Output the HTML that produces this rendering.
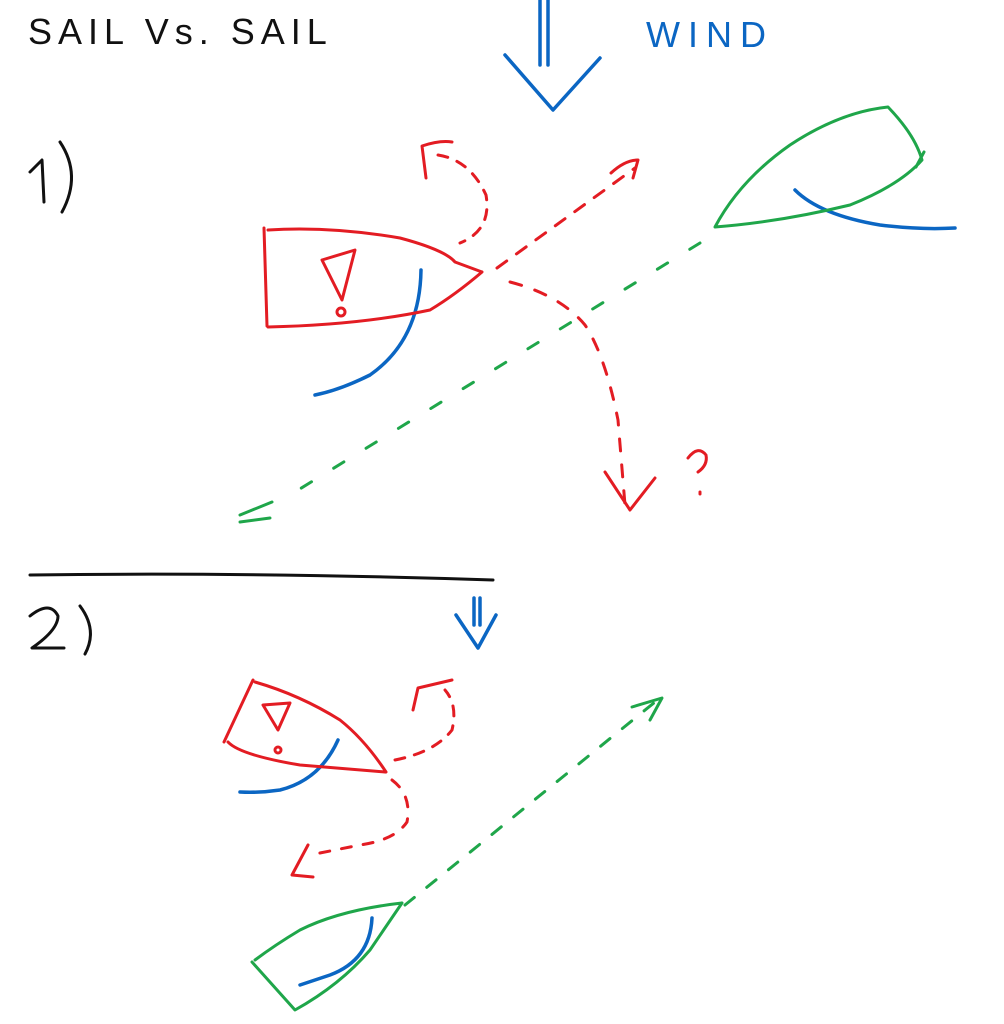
<!DOCTYPE html>
<html><head><meta charset="utf-8"><style>html,body{margin:0;padding:0;background:#fff}svg{display:block}</style></head>
<body>
<svg width="1004" height="1024" viewBox="0 0 1004 1024" xmlns="http://www.w3.org/2000/svg" fill="none" stroke-linecap="round" stroke-linejoin="round">
<text x="28" y="44" font-family="Liberation Sans, sans-serif" font-size="36" fill="#111" letter-spacing="6" stroke="none">SAIL  Vs. SAIL</text>
<text x="646" y="47" font-family="Liberation Sans, sans-serif" font-size="36" fill="#0b66c3" letter-spacing="8" stroke="none">WIND</text>
<g stroke="#111" stroke-width="3">
<path d="M30 172 L42 160 L44 202"/>
<path d="M60 142 Q82 175 62 212"/>
<path d="M30 616 Q50 600 58 616 Q58 630 32 648 L64 648"/>
<path d="M80 606 Q98 630 85 654"/>
<path d="M30 575 Q250 572 493 580"/>
</g>
<g stroke="#0b66c3" stroke-width="3.5">
<path d="M540 0 V65 M548 0 V65 M505 55 L553 110 L600 58"/>
<path d="M474 598 V625 M480 598 V625 M456 615 L478 648 L496 615"/>
<path d="M421 270 Q420 340 370 375 Q340 390 315 395"/>
<path d="M795 190 Q820 215 880 225 Q920 230 955 228"/>
<path d="M338 740 Q320 780 280 790 Q260 793 240 792"/>
<path d="M372 918 Q370 960 330 975 L300 985"/>
</g>
<g stroke="#e31c23" stroke-width="3">
<path d="M264 228 L267 326 M268 230 Q330 226 400 238 Q445 250 455 262 L482 272 M268 327 Q360 325 430 310 Q455 295 482 272"/>
<path d="M322 260 L355 250 L342 300 Z"/><circle cx="341" cy="312" r="4"/>
<path d="M426 178 L422 146 Q440 140 452 142"/>
<path d="M438 155 Q470 160 486 195 Q492 230 460 243" stroke-dasharray="10 10"/>
<path d="M497 268 L635 168" stroke-dasharray="12 12"/>
<path d="M611 173 Q625 160 638 160 L633 178"/>
<path d="M510 282 Q560 295 585 325 Q605 355 618 420 L625 505" stroke-dasharray="12 14"/>
<path d="M605 472 L630 510 L655 478"/>
<path d="M688 458 Q698 445 706 455 Q708 465 698 472 M700 492 L700 494"/>
<path d="M253 680 L224 742 M255 682 Q300 695 340 720 Q365 740 386 772 M228 742 Q240 755 300 765 L385 772"/>
<path d="M263 705 L290 703 L278 730 Z"/><circle cx="278" cy="750" r="3"/>
<path d="M413 710 L418 688 L452 680"/>
<path d="M395 760 Q435 752 452 730 Q458 705 445 690" stroke-dasharray="10 10"/>
<path d="M392 780 Q412 795 407 822 Q395 840 360 845 L310 855" stroke-dasharray="10 12"/>
<path d="M308 845 L292 875 L313 877"/>
</g>
<g stroke="#1fa64a" stroke-width="3">
<path d="M715 227 Q740 180 790 145 Q840 112 888 107 Q915 135 922 160 Q900 185 850 205 Q780 222 715 227 Z M924 152 L916 167"/>
<path d="M700 243 L290 495" stroke-dasharray="12 26"/>
<path d="M272 502 L240 515 M240 522 L270 518"/>
<path d="M402 903 Q340 910 300 930 Q275 945 255 960 M252 962 L295 1010 Q340 985 370 950 L402 903"/>
<path d="M405 905 L655 702" stroke-dasharray="12 16"/>
<path d="M632 707 L662 698 L650 720"/>
</g>
</svg>
</body></html>
